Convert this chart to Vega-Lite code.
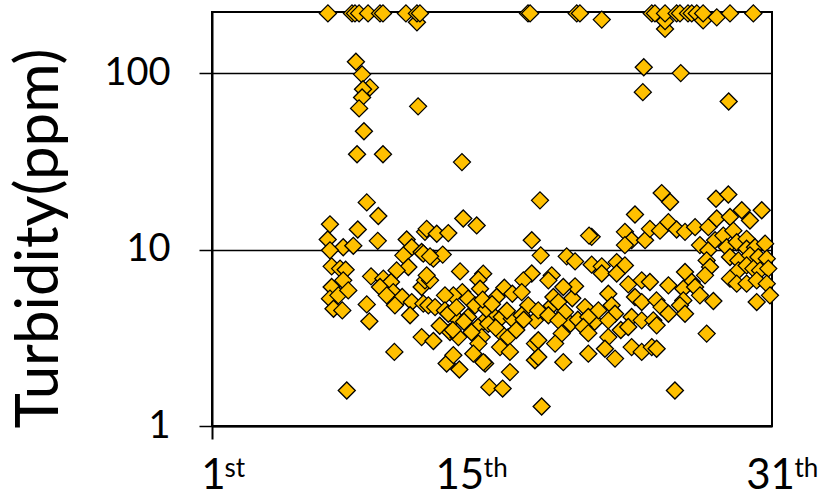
{
  "$schema": "https://vega.github.io/schema/vega-lite/v6.json",
  "width": 560,
  "height": 414,
  "autosize": "none",
  "padding": {"left": 212, "top": 12, "right": 47, "bottom": 70},
  "background": "white",
  "config": {
    "view": {"stroke": "black", "strokeWidth": 2},
    "font": "Lato"
  },
  "data": {"values": [
    {"d":7.21,"t":218},{"d":8.50,"t":218},{"d":8.66,"t":218},{"d":8.88,"t":218},{"d":9.36,"t":218},{"d":10.0,"t":218},{"d":10.16,"t":218},{"d":11.39,"t":218},{"d":11.98,"t":194},{"d":11.98,"t":218},{"d":12.14,"t":218},{"d":17.93,"t":218},{"d":18.04,"t":218},{"d":20.54,"t":218},{"d":20.71,"t":218},{"d":21.88,"t":201},{"d":24.56,"t":218},{"d":24.73,"t":218},{"d":25.27,"t":178},{"d":25.27,"t":197},{"d":25.27,"t":218},{"d":25.89,"t":218},{"d":26.07,"t":218},{"d":26.5,"t":218},{"d":26.7,"t":218},{"d":26.97,"t":218},{"d":27.31,"t":199},{"d":27.31,"t":218},{"d":28.04,"t":207},{"d":28.75,"t":218},{"d":30.0,"t":218},
    {"d":8.71,"t":116},{"d":9.04,"t":98.4},{"d":9.46,"t":83},{"d":9.09,"t":81},{"d":9.04,"t":72.8},{"d":8.88,"t":63.1},{"d":12.04,"t":64.8},{"d":9.14,"t":46.8},{"d":8.77,"t":34.7},{"d":10.16,"t":34.7},{"d":14.39,"t":31.3},{"d":9.29,"t":18.5},{"d":18.57,"t":19.0},{"d":24.13,"t":108},{"d":26.11,"t":100},{"d":24.08,"t":78},{"d":28.68,"t":69},
    {"d":9.91,"t":15.5},{"d":7.32,"t":13.9},{"d":8.81,"t":13.0},{"d":7.2,"t":11.4},{"d":9.88,"t":11.2},{"d":8.03,"t":10.3},{"d":8.57,"t":10.5},{"d":7.32,"t":9.9},{"d":11.43,"t":11.4},{"d":11.7,"t":10.3},{"d":12.41,"t":12.6},{"d":12.23,"t":9.68},{"d":11.25,"t":9.27},{"d":11.52,"t":7.96},{"d":10.89,"t":7.62},{"d":7.41,"t":8.03},{"d":7.86,"t":7.8},{"d":8.16,"t":7.69},{"d":8.03,"t":6.69},{"d":7.41,"t":6.13},{"d":7.32,"t":5.27},{"d":7.77,"t":5.5},{"d":7.51,"t":4.62},{"d":7.98,"t":4.52},{"d":9.52,"t":7.05},{"d":10.18,"t":6.84},{"d":10.59,"t":6.55},{"d":10.0,"t":6.13},{"d":10.71,"t":5.74},{"d":10.36,"t":5.5},{"d":11.19,"t":5.38},{"d":10.8,"t":4.83},{"d":11.7,"t":5.04},{"d":11.61,"t":4.24},{"d":12.23,"t":6.13},{"d":12.41,"t":6.69},{"d":12.32,"t":4.94},{"d":9.29,"t":4.89},{"d":9.43,"t":3.92},{"d":12.23,"t":3.19},{"d":10.77,"t":2.63},{"d":8.22,"t":1.59},{"d":8.3,"t":5.87},
    {"d":12.5,"t":13.1},{"d":13.04,"t":12.3},{"d":13.66,"t":12.4},{"d":14.46,"t":15.0},{"d":15.18,"t":13.7},{"d":12.32,"t":9.48},{"d":12.86,"t":8.88},{"d":13.36,"t":9.36},{"d":14.29,"t":7.52},{"d":12.68,"t":6.69},{"d":15.53,"t":7.3},{"d":13.57,"t":2.26},{"d":13.93,"t":2.52},{"d":14.25,"t":2.09},{"d":15.86,"t":1.66},{"d":16.57,"t":1.63},{"d":16.96,"t":2.02},{"d":15.63,"t":2.26},{"d":18.66,"t":1.29},{"d":18.13,"t":11.3},{"d":18.61,"t":9.27},{"d":18.13,"t":7.32},{"d":17.68,"t":6.69},{"d":12.86,"t":3.03},
    {"d":12.68,"t":9.15},{"d":15.27,"t":6.75},{"d":12.5,"t":7.14},{"d":15.36,"t":6.0},{"d":16.66,"t":6.08},{"d":16.25,"t":5.38},{"d":17.09,"t":5.62},{"d":17.59,"t":5.74},{"d":17.94,"t":4.83},{"d":14.41,"t":5.74},{"d":13.93,"t":5.5},{"d":13.48,"t":5.5},{"d":14.72,"t":5.27},{"d":15.09,"t":4.83},{"d":12.59,"t":4.83},{"d":12.95,"t":4.72},{"d":13.48,"t":4.52},{"d":14.02,"t":4.15},{"d":13.66,"t":4.33},{"d":15.63,"t":3.97},{"d":15.98,"t":4.33},{"d":16.52,"t":4.15},{"d":17.06,"t":4.06},{"d":17.59,"t":4.24},{"d":14.72,"t":4.15},{"d":15.25,"t":3.64},{"d":15.8,"t":3.8},{"d":13.75,"t":3.41},{"d":14.2,"t":3.19},{"d":15.45,"t":3.19},{"d":16.52,"t":3.34},{"d":16.87,"t":3.19},{"d":15.27,"t":2.93},{"d":16.43,"t":2.8},{"d":16.96,"t":2.63},{"d":15.0,"t":2.57},{"d":15.54,"t":2.3},{"d":18.3,"t":3.97},{"d":18.3,"t":2.93},{"d":18.3,"t":2.36},
    {"d":13.2,"t":3.7},{"d":13.9,"t":3.5},{"d":14.5,"t":3.9},{"d":14.9,"t":3.4},{"d":15.7,"t":4.6},{"d":16.2,"t":3.6},{"d":16.8,"t":4.5},{"d":17.3,"t":3.5},{"d":14.1,"t":4.7},{"d":15.5,"t":5.2},{"d":16.0,"t":4.9},{"d":17.7,"t":4.0},{"d":20.2,"t":3.8},{"d":20.6,"t":4.0},{"d":21.5,"t":3.9},{"d":22.9,"t":3.5},{"d":19.2,"t":4.8},{"d":20.3,"t":5.3},
    {"d":23.66,"t":15.8},{"d":21.34,"t":11.8},{"d":21.2,"t":12.0},{"d":23.12,"t":12.6},{"d":23.48,"t":11.3},{"d":24.2,"t":11.3},{"d":24.46,"t":13.1},{"d":23.12,"t":10.6},{"d":20.0,"t":9.15},{"d":20.45,"t":8.57},{"d":21.34,"t":8.21},{"d":21.88,"t":8.03},{"d":21.88,"t":7.32},{"d":22.68,"t":8.49},{"d":23.12,"t":8.13},{"d":22.68,"t":7.32},{"d":19.2,"t":7.14},{"d":19.02,"t":6.69},{"d":23.3,"t":6.35},{"d":24.02,"t":6.69},{"d":24.46,"t":6.55},{"d":20.45,"t":6.19},{"d":19.82,"t":6.13},{"d":22.23,"t":5.62},{"d":19.29,"t":5.38},{"d":19.56,"t":5.04},{"d":23.66,"t":5.38},{"d":24.02,"t":5.04},{"d":18.48,"t":4.52},{"d":19.02,"t":4.24},{"d":19.91,"t":4.42},{"d":19.56,"t":3.97},{"d":20.98,"t":4.72},{"d":21.7,"t":4.52},{"d":22.41,"t":4.83},{"d":22.59,"t":4.33},{"d":22.23,"t":3.97},{"d":21.16,"t":4.15},{"d":20.89,"t":3.64},{"d":21.16,"t":3.36},{"d":23.48,"t":4.15},{"d":24.02,"t":3.97},{"d":23.3,"t":3.64},{"d":19.73,"t":3.34},{"d":19.38,"t":2.93},{"d":18.48,"t":3.06},{"d":18.48,"t":2.46},{"d":22.23,"t":3.19},{"d":22.05,"t":2.74},{"d":22.59,"t":2.41},{"d":21.16,"t":2.57},{"d":19.82,"t":2.3},{"d":23.48,"t":2.8},{"d":24.02,"t":2.63},{"d":24.56,"t":2.8},
    {"d":25.09,"t":20.9},{"d":25.54,"t":18.6},{"d":28.0,"t":19.4},{"d":28.66,"t":20.5},{"d":25.0,"t":12.8},{"d":25.45,"t":14.3},{"d":25.89,"t":13.0},{"d":26.34,"t":12.6},{"d":26.88,"t":13.4},{"d":27.59,"t":13.4},{"d":28.04,"t":15.0},{"d":28.75,"t":15.3},{"d":29.38,"t":16.7},{"d":29.82,"t":14.6},{"d":30.45,"t":16.7},{"d":27.14,"t":10.6},{"d":27.59,"t":9.9},{"d":27.95,"t":11.3},{"d":28.39,"t":12.0},{"d":28.93,"t":12.8},{"d":28.57,"t":10.3},{"d":29.11,"t":11.0},{"d":29.64,"t":11.5},{"d":29.64,"t":10.1},{"d":30.09,"t":10.3},{"d":30.63,"t":10.8},{"d":27.5,"t":8.68},{"d":27.68,"t":7.96},{"d":27.41,"t":7.14},{"d":28.75,"t":9.07},{"d":29.2,"t":8.68},{"d":29.82,"t":9.27},{"d":30.27,"t":9.07},{"d":30.72,"t":8.88},{"d":29.2,"t":7.62},{"d":29.64,"t":8.13},{"d":30.0,"t":7.8},{"d":30.36,"t":7.62},{"d":30.8,"t":7.8},{"d":28.75,"t":6.84},{"d":29.11,"t":6.41},{"d":29.64,"t":6.41},{"d":30.18,"t":6.69},{"d":30.72,"t":6.41},{"d":30.89,"t":5.5},{"d":30.18,"t":5.04},{"d":25.45,"t":6.27},{"d":26.34,"t":7.46},{"d":26.7,"t":6.55},{"d":26.25,"t":6.0},{"d":26.88,"t":6.13},{"d":27.14,"t":5.5},{"d":27.86,"t":5.11},{"d":24.81,"t":5.15},{"d":25.08,"t":4.72},{"d":25.45,"t":4.33},{"d":24.64,"t":3.97},{"d":26.25,"t":5.15},{"d":26.07,"t":4.83},{"d":26.34,"t":4.33},{"d":24.82,"t":3.72},{"d":27.5,"t":3.34},{"d":24.82,"t":2.74},{"d":25.8,"t":1.59}
  ]},
  "resolve": {"axis": {"x": "independent"}},
  "layer": [
    {
      "mark": {"type": "point", "shape": "diamond", "size": 290, "filled": true, "fill": "#FFC000", "stroke": "black", "strokeWidth": 1.3, "opacity": 1},
      "encoding": {
        "x": {
          "field": "d", "type": "quantitative",
          "scale": {"domain": [1, 31], "nice": false, "zero": false},
          "axis": {
            "orient": "bottom",
            "values": [1, 15, 31],
            "labelExpr": "datum.value == 1 ? '1' : datum.value == 15 ? '15' : '31'",
            "title": null,
            "grid": false,
            "domainColor": "black", "domainWidth": 2,
            "tickColor": "black", "tickWidth": 2, "tickSize": 13,
            "tickOpacity": {"condition": {"test": "datum.value == 1", "value": 1}, "value": 0},
            "labelFont": "Lato", "labelFontSize": 42, "labelColor": "black",
            "labelAlign": "center", "labelBaseline": "top", "labelPadding": 16,
            "labelOffset": {"condition": [{"test": "datum.value == 15", "value": -14}, {"test": "datum.value == 31", "value": -2}], "value": 1},
            "labelFlush": false, "labelOverlap": false
          }
        },
        "y": {
          "field": "t", "type": "quantitative",
          "scale": {"type": "log", "domain": [1, 222], "nice": false},
          "axis": {
            "values": [1, 10, 100],
            "title": "Turbidity(ppm)",
            "titleFont": "Lato", "titleFontSize": 60, "titleFontWeight": "normal", "titleColor": "black",
            "titleX": -142, "titleY": 226, "titleAngle": 270, "titleBaseline": "bottom",
            "grid": true, "gridColor": "black", "gridWidth": 1.5, "gridOpacity": 1,
            "domainColor": "black", "domainWidth": 2,
            "tickColor": "black", "tickWidth": 1.5, "tickSize": 13,
            "labelFont": "Lato", "labelFontSize": 38, "labelColor": "black", "labelPadding": 29,
            "labelFlush": false, "labelOverlap": false
          }
        }
      }
    },
    {
      "mark": {"type": "point", "opacity": 0},
      "encoding": {
        "x": {
          "field": "d", "type": "quantitative",
          "axis": {
            "orient": "bottom",
            "values": [1, 15, 31],
            "labelExpr": "datum.value == 1 ? 'st' : 'th'",
            "title": null, "grid": false, "domain": false, "ticks": false, "tickSize": 0,
            "labelFont": "Lato", "labelFontSize": 26, "labelColor": "black",
            "labelAlign": "left", "labelBaseline": "top", "labelPadding": 29,
            "labelOffset": {"condition": [{"test": "datum.value == 15", "value": 10}, {"test": "datum.value == 31", "value": 22}], "value": 12},
            "labelFlush": false, "labelOverlap": false
          }
        }
      }
    }
  ]
}
